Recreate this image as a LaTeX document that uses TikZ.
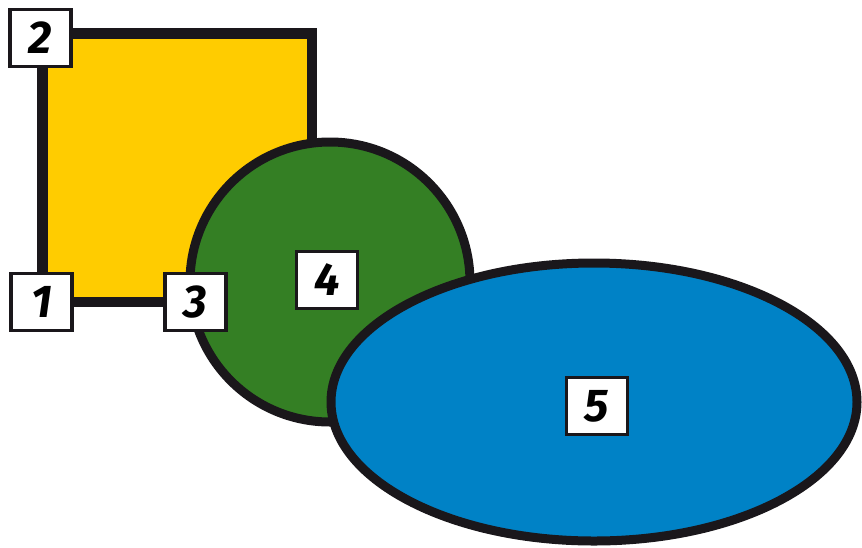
\documentclass[tikz,border=0pt]{standalone}
\usepackage{fontspec}
\setmainfont{Fira Sans}
\definecolor{sqyellow}{HTML}{FFCC00}
\definecolor{cgreen}{HTML}{347F24}
\definecolor{eblue}{HTML}{0082C6}
\definecolor{edge}{HTML}{1A171B}
\begin{document}
\begin{tikzpicture}[x=1pt,y=-1pt,
    numbox/.style={draw=edge,line width=3.5pt,fill=white,minimum width=61pt,minimum height=57pt,
        inner sep=0pt,font=\fontsize{46}{46}\selectfont\bfseries\itshape}]
    \useasboundingbox (0,0) rectangle (862,547);
    \filldraw [draw=edge,line width=10.5pt,fill=sqyellow] (42.5,33.5) rectangle (312,302);
    \filldraw [draw=edge,line width=9pt,fill=cgreen] (330,282) circle (140);
    \filldraw [draw=edge,line width=9pt,fill=eblue] (594,402) ellipse (263 and 139);

    \node [numbox] (n1) at (41.5,302) {1};
    \node [numbox] (n2) at (40.5,38) {2};
    \node [numbox] (n3) at (195.5,302) {3};
    \node [numbox] (n4) at (327,280) {4};
    \node [numbox] (n5) at (597,406) {5};
\end{tikzpicture}
\end{document}
